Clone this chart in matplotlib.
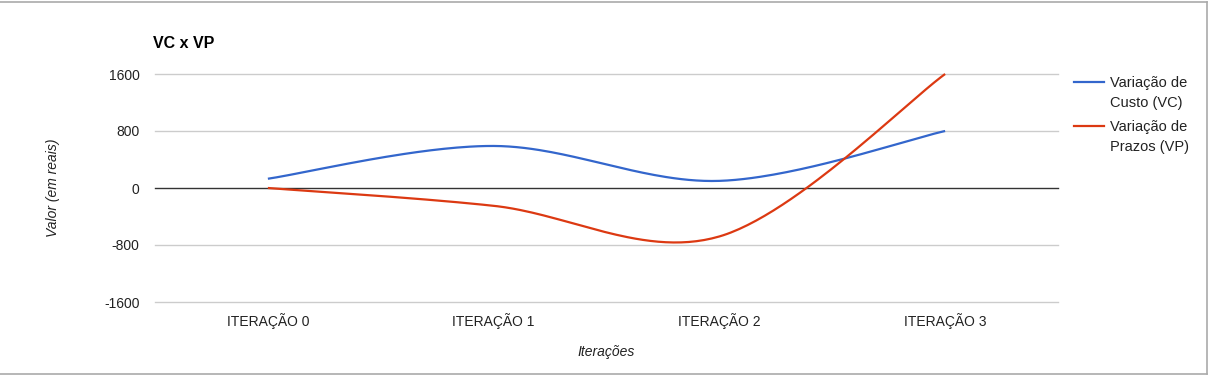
import numpy as np
import matplotlib
matplotlib.use("Agg")
import matplotlib.pyplot as plt
from matplotlib.lines import Line2D

plt.rcParams['font.family'] = ['Liberation Sans', 'DejaVu Sans']

# ---------------------------------------------------------#
# Data                                                     #
# ---------------------------------------------------------#
categories = ['ITERAÇÃO 0', 'ITERAÇÃO 1', 'ITERAÇÃO 2', 'ITERAÇÃO 3']
vc_values  = [130, 590, 100, 800]       # Variação de Custo (VC)
vp_values  = [0, -250, -680, 1600]      # Variação de Prazos (VP)
y_ticks    = [-1600, -800, 0, 800, 1600]
series_names = ['Variação de\nCusto (VC)', 'Variação de\nPrazos (VP)']

color_vc = '#3366cc'
color_vp = '#dc3912'
text_col = '#222222'
W, H = 1215, 375


def smooth(xs, ys, n=60, k=1.0 / 6):
    # cubic bezier through the points (google charts "function" curve)
    xs = np.asarray(xs, float)
    ys = np.asarray(ys, float)
    px, py = [], []
    m = len(xs)
    for i in range(m - 1):
        x0, y0 = (xs[i - 1], ys[i - 1]) if i > 0 else (xs[i], ys[i])
        x3, y3 = (xs[i + 2], ys[i + 2]) if i + 2 < m else (xs[i + 1], ys[i + 1])
        c1x = xs[i] + (xs[i + 1] - x0) * k
        c1y = ys[i] + (ys[i + 1] - y0) * k
        c2x = xs[i + 1] - (x3 - xs[i]) * k
        c2y = ys[i + 1] - (y3 - ys[i]) * k
        t = np.linspace(0, 1, n)
        a, b, c, d = (1 - t) ** 3, 3 * (1 - t) ** 2 * t, 3 * (1 - t) * t ** 2, t ** 3
        px.append(a * xs[i] + b * c1x + c * c2x + d * xs[i + 1])
        py.append(a * ys[i] + b * c1y + c * c2y + d * ys[i + 1])
    return np.concatenate(px), np.concatenate(py)


fig = plt.figure(figsize=(W / 100, H / 100), dpi=100)
ax = fig.add_axes([155 / W, 1 - 302 / H, 903 / W, 228 / H])

xpos = np.arange(len(categories))
for vals, col in ((vc_values, color_vc), (vp_values, color_vp)):
    sx, sy = smooth(xpos, vals)
    ax.plot(sx, sy, color=col, lw=1.6, solid_capstyle='butt', zorder=3, clip_on=False)

ax.set_xlim(-0.5, len(categories) - 0.5)
ax.set_ylim(-1600, 1600)
ax.set_yticks(y_ticks)
ax.set_yticklabels([str(v) for v in y_ticks])
ax.set_xticks(xpos)
ax.set_xticklabels(categories)
ax.tick_params(length=0, labelsize=10, colors=text_col)
ax.tick_params(axis='y', pad=11)
ax.tick_params(axis='x', pad=8)
for v in y_ticks:
    if v == 0:
        ax.axhline(v, color='#333333', lw=1.0, zorder=2, clip_on=False)
    else:
        ax.axhline(v, color='#cccccc', lw=1.0, zorder=1, clip_on=False)
for s in ax.spines.values():
    s.set_visible(False)

ax.set_xlabel('Iterações', fontstyle='italic', fontsize=10, color=text_col)
ax.set_ylabel('Valor (em reais)', fontstyle='italic', fontsize=10, color=text_col)
ax.xaxis.set_label_coords(0.5, -(345 - 302) / 228)
ax.yaxis.set_label_coords((60 - 155) / 903, 0.5)

fig.text(153 / W, 1 - 44 / H, 'VC x VP', fontsize=11.5, fontweight='bold',
         va='center', ha='left', color='black')

# legend, laid out like google charts (handle next to the first text line)
for i, (name, col) in enumerate(zip(series_names, (color_vc, color_vp))):
    yl = 82 + i * 44
    fig.add_artist(Line2D([1074 / W, 1104 / W], [1 - yl / H, 1 - yl / H], color=col, lw=1.6))
    fig.text(1110 / W, 1 - (yl - 6) / H, name, fontsize=10.5, color=text_col,
             va='top', ha='left', linespacing=1.5)

# chart frame
fx = 1207 / W
fig.add_artist(Line2D([0, fx], [1 - 2 / H, 1 - 2 / H], color='#aaaaaa', lw=1.2))
fig.add_artist(Line2D([fx, fx], [1 - 2 / H, 1 - 374 / H], color='#aaaaaa', lw=1.2))
fig.add_artist(Line2D([0, fx], [1 - 374 / H, 1 - 374 / H], color='#aaaaaa', lw=1.2))

fig.savefig('out.png', dpi=100)
